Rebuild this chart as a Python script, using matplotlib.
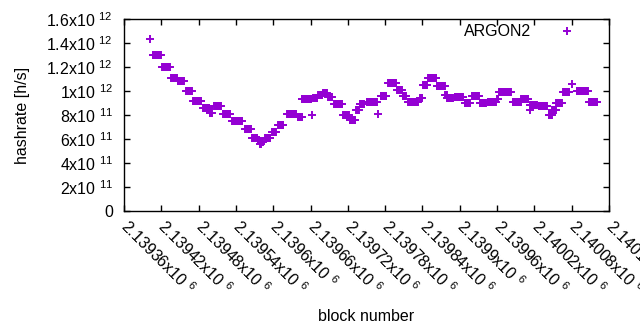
import numpy as np
import matplotlib
matplotlib.use("Agg")
import matplotlib.pyplot as plt

plt.rcParams['font.family'] = ['Liberation Sans', 'DejaVu Sans']
plt.rcParams['mathtext.fontset'] = 'custom'
plt.rcParams['mathtext.rm'] = 'Liberation Sans'
plt.rcParams['mathtext.it'] = 'Liberation Sans'
plt.rcParams['mathtext.bf'] = 'Liberation Sans'

# runs of blocks with the same hashrate (block offsets from block_base)
block_base = 2139360
seg_first = [42, 46, 61, 76, 86, 100, 111, 127, 138, 145,
             159, 174, 195, 206, 215, 218, 221, 227, 238, 248,
             262, 279, 286, 302, 304, 312, 320, 328, 338, 352,
             363, 373, 379, 390, 408, 413, 425, 439, 448, 457,
             476, 481, 489, 503, 517, 520, 532, 548, 560, 572,
             585, 600, 603, 625, 639, 653, 653, 667, 683, 689,
             695, 706, 720, 728, 748]
seg_last = [42, 59, 74, 85, 96, 109, 124, 137, 141, 156,
            170, 190, 204, 214, 217, 220, 223, 235, 244, 256,
            277, 287, 301, 302, 311, 319, 326, 334, 351, 362,
            372, 378, 386, 407, 408, 422, 438, 447, 453, 472,
            480, 487, 502, 516, 519, 529, 545, 556, 571, 582,
            598, 602, 622, 638, 650, 664, 653, 680, 688, 694,
            704, 716, 720, 746, 761]
seg_rate = [14.3, 13.0, 12.0, 11.1, 10.8, 10.0, 9.2, 8.6, 8.2, 8.75,
            8.1, 7.5, 6.8, 6.1, 5.9, 5.55, 5.75, 6.1, 6.6, 7.2,
            8.1, 7.8, 9.3, 8.0, 9.45, 9.65, 9.8, 9.5, 8.9, 8.0,
            7.6, 8.4, 8.9, 9.1, 8.1, 9.6, 10.7, 10.1, 9.6, 9.1,
            9.4, 10.5, 11.1, 10.4, 9.7, 9.4, 9.5, 9.0, 9.6, 9.0,
            9.1, 9.3, 9.9, 9.1, 9.3, 8.8, 8.4, 8.75, 8.0, 8.4,
            9.0, 9.9, 10.6, 10.0, 9.1]  # x 1e11 h/s

blocks = []
rates = []
for a, b, r in zip(seg_first, seg_last, seg_rate):
    for k in range(a, b + 1):
        blocks.append(block_base + k)
        rates.append(r * 1e11)

xticks = [block_base + 60 * i for i in range(14)]
yticks = [2e11 * i for i in range(9)]

def ylab(v):
    if v == 0:
        return "0"
    e = int(np.floor(np.log10(v)))
    m = v / 10 ** e
    return "%gx10 $^{%d}$" % (round(m, 3), e)

def xlab(v):
    return "%gx10 $^{6}$" % (v / 1e6)

purple = '#9400D3'

fig = plt.figure(figsize=(6.4, 3.3), dpi=100)
ax = fig.add_axes([0.1938, 0.3606, 0.7578, 0.5818])

ax.plot(blocks, rates, '+', color=purple, markersize=6, markeredgewidth=1.4,
        linestyle='none')

ax.set_xlim(xticks[0], xticks[-1])
ax.set_ylim(0, 1.6e12)
ax.set_xticks(xticks)
ax.set_xticklabels([xlab(v) for v in xticks], rotation=-45, ha='left', va='center',
                   rotation_mode='anchor')
ax.set_yticks(yticks)
ax.set_yticklabels([ylab(v) for v in yticks])
ax.tick_params(direction='in', length=4, width=1, top=True, right=True,
               labelsize=11.5, colors='black')
ax.tick_params(axis='x', pad=9)
ax.tick_params(axis='y', pad=8)
for s in ax.spines.values():
    s.set_linewidth(1)
    s.set_color('black')

ax.set_ylabel('hashrate [h/s]', fontsize=11.5, labelpad=12)
ax.set_xlabel('block number', fontsize=11.5)
ax.xaxis.set_label_coords(0.5, -0.51)

# key, gnuplot style: title then sample
ax.text(0.839, 0.9375, 'ARGON2', transform=ax.transAxes, ha='right', va='center',
        fontsize=11.5)
ax.plot([0.913], [0.9375], '+', color=purple, markersize=6, markeredgewidth=1.4,
        transform=ax.transAxes, clip_on=False)

fig.savefig('out.png', dpi=100)
